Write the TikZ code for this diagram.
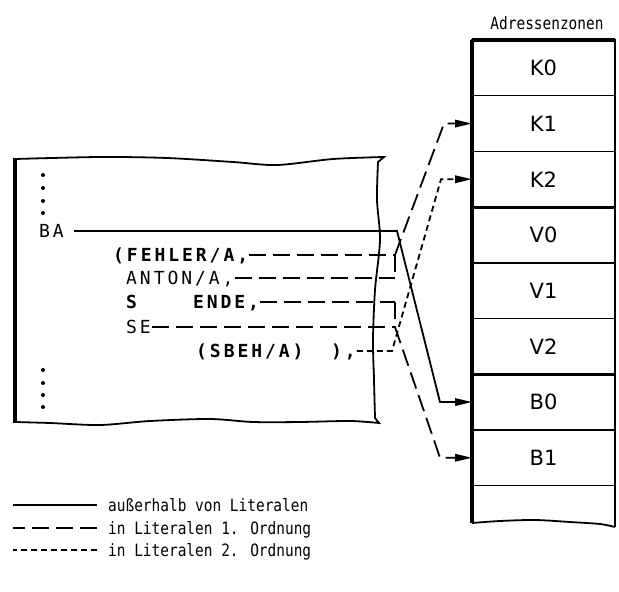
\documentclass[tikz,border=0pt]{standalone}
\usepackage{fontspec}
\newfontfamily\codefont[LetterSpace=16.4]{DejaVu Sans Mono}
\newfontfamily\zonefont{DejaVu Sans}
\newfontfamily\notefont[FakeStretch=0.85]{DejaVu Sans Mono}
\usepackage{tikz}
\usetikzlibrary{arrows.meta,positioning}

\begin{document}
\begin{tikzpicture}[x=1pt, y=-1pt, node distance=0pt,
  zone/.style={draw, line width=1.4pt, minimum width=143pt, minimum height=55.7pt, inner sep=0pt, outer sep=0pt, font=\zonefont\fontsize{21}{24}\selectfont},
  code/.style={anchor=west, inner sep=1pt, text height=13pt, text depth=0pt, font=\codefont\fontsize{18}{20}\selectfont},
  note/.style={anchor=west, inner sep=0pt, text height=12pt, text depth=0pt, font=\notefont\fontsize{17}{19}\selectfont},
  plain/.style={line width=1.8pt},
  lit1/.style={line width=1.8pt, dash pattern=on 17pt off 7pt},
  lit2/.style={line width=1.8pt, dash pattern=on 6pt off 4pt},
  tip/.style={-{Triangle[length=17pt,width=7.5pt]}}]
\useasboundingbox (0,0) rectangle (619,592);

\node[note, anchor=center] (title) at (547,23) {Adressenzonen};
\node[zone] (k0) at (543.5,67.85) {K0};
\node[zone, below=of k0] (k1) {K1};
\node[zone, below=of k1] (k2) {K2};
\node[zone, below=of k2] (v0) {V0};
\node[zone, below=of v0] (v1) {V1};
\node[zone, below=of v1] (v2) {V2};
\node[zone, below=of v2] (b0) {B0};
\node[zone, below=of b0] (b1) {B1};
\node[minimum width=143pt, minimum height=37pt, inner sep=0pt, outer sep=0pt, below=of b1] (rest) {};
\draw[line width=3.2pt] (k0.north west) -- (k0.north east);
\draw[line width=3.2pt] (k0.north west) -- (rest.south west);
\draw[line width=2pt] (k0.north east) -- ([yshift=-4pt]rest.south east);
\draw[line width=3.2pt] (k2.south west) -- (k2.south east);
\draw[line width=3.2pt] (v2.south west) -- (v2.south east);
\draw[line width=1.8pt] plot[smooth] coordinates {(472,523) (500,521) (535,520) (570,522) (600,524) (615,527)};

\draw[line width=1.8pt] plot[smooth] coordinates {(15,159) (100,157) (167,158) (233,162) (277,165) (333,159) (384,157)}
  -- (378,162) -- plot[smooth] coordinates {(378,162) (377,200) (380,240) (375,290) (373,340) (374,380) (375,418)} -- (379,423)
  -- plot[smooth] coordinates {(379,423) (350,421) (300,422) (253,422) (210,419) (150,421) (100,425) (50,423) (15,422)};
\draw[line width=3.2pt] (15,158) -- (15,423);
\fill (43,175) circle[radius=2pt] (43,188) circle[radius=2pt] (43,201) circle[radius=2pt] (43,213) circle[radius=2pt];
\fill (43,370) circle[radius=2pt] (43,383) circle[radius=2pt] (43,395) circle[radius=2pt] (43,407) circle[radius=2pt];

\node[code] (ba) at (38,231) {BA};
\node[code] (fehler) at (112,255) {\bfseries(FEHLER/A,};
\node[code] (anton) at (125,278) {ANTON/A,};
\node[code] (ende) at (125,302) {\bfseries S\hspace{56pt}ENDE,};
\node[code] (se) at (125,327) {SE};
\node[code] (sbeh) at (195,351) {\bfseries(SBEH/A)\hspace{27.6pt}),};

\coordinate (jx) at (395,0);
\coordinate (k1in) at ([xshift=-28pt]k1.west);
\coordinate (k2in) at ([xshift=-31pt]k2.west);
\coordinate (b0in) at ([xshift=-32pt]b0.west);
\coordinate (b1in) at ([xshift=-32pt]b1.west);
\draw[plain, tip] ([xshift=9pt]ba.east) -- ([xshift=2pt]ba.east -| jx) -- (b0in) -- (b0.west);
\draw[lit1] (fehler.east) -- (fehler.east -| jx);
\draw[lit1] (anton.east) -- (anton.east -| jx);
\draw[lit1] (fehler.east -| jx) -- (anton.east -| jx);
\draw[lit1, tip] (fehler.east -| jx) -- (k1in) -- (k1.west);
\draw[lit1] (ende.east) -- (ende.east -| jx);
\draw[lit1] (se.east) -- (se.east -| jx);
\draw[lit1] (ende.east -| jx) -- (se.east -| jx);
\draw[lit1, tip] (se.east -| jx) -- (b1in) -- (b1.west);
\draw[lit2, tip] (sbeh.east) -- ([xshift=-3pt]sbeh.east -| jx) -- (k2in) -- (k2.west);

\node[note] (l1) at (108,505) {außerhalb von Literalen};
\node[note] (l2) at (108,528) {in Literalen 1. Ordnung};
\node[note] (l3) at (108,550) {in Literalen 2. Ordnung};
\draw[plain] (l1.west) ++(-11pt,0) -- ++(-84pt,0);
\draw[lit1] (l2.west) ++(-11pt,0) -- ++(-84pt,0);
\draw[lit2] (l3.west) ++(-11pt,0) -- ++(-84pt,0);
\end{tikzpicture}
\end{document}
